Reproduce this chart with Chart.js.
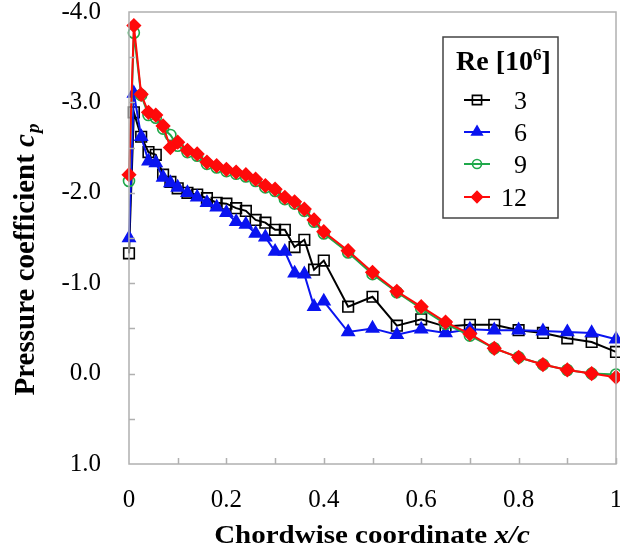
<!DOCTYPE html>
<html>
<head>
<meta charset="utf-8">
<script src="https://cdn.jsdelivr.net/npm/chart.js@4.4.1/dist/chart.umd.min.js"></script>
<style>
  html, body { margin: 0; padding: 0; background: #fff; }
  #wrap { width: 620px; height: 555px; position: relative; }
</style>
</head>
<body>
<div id="wrap"><canvas id="myChart"></canvas></div>
<script>
// chordwise stations x/c (shared by all runs)
const chordX = [0, 0.01, 0.025, 0.04, 0.055, 0.07, 0.085, 0.10, 0.12, 0.14, 0.16, 0.18, 0.20, 0.22, 0.24,
  0.26, 0.28, 0.30, 0.32, 0.34, 0.36, 0.38, 0.40, 0.45, 0.50, 0.55, 0.60, 0.65, 0.70, 0.75, 0.80,
  0.85, 0.90, 0.95, 1.00]

// pressure coefficient per Reynolds number
const cpRe3 = [-1.33, -2.89, -2.62, -2.45, -2.42, -2.20, -2.12, -2.05, -2.00, -1.98, -1.94, -1.89, -1.88, -1.83, -1.80,
  -1.70, -1.67, -1.59, -1.59, -1.40, -1.48, -1.15, -1.25, -0.74, -0.85, -0.53, -0.60, -0.52, -0.54, -0.54, -0.48,
  -0.45, -0.39, -0.35, -0.24]
const cpRe6 = [-1.50, -3.10, -2.62, -2.35, -2.33, -2.17, -2.11, -2.06, -2.00, -1.95, -1.89, -1.84, -1.78, -1.68, -1.65,
  -1.55, -1.51, -1.35, -1.35, -1.11, -1.10, -0.74, -0.80, -0.46, -0.50, -0.43, -0.49, -0.45, -0.49, -0.48, -0.48,
  -0.47, -0.46, -0.45, -0.38]
const cpRe9 = [-2.13, -3.77, -3.08, -2.86, -2.83, -2.71, -2.64, -2.52, -2.45, -2.41, -2.32, -2.28, -2.24, -2.21, -2.18,
  -2.13, -2.06, -2.02, -1.93, -1.88, -1.80, -1.68, -1.55, -1.34, -1.10, -0.90, -0.72, -0.55, -0.42, -0.28, -0.18,
  -0.10, -0.04, 0.00, 0.01]
const cpRe12 = [-2.20, -3.85, -3.09, -2.89, -2.86, -2.74, -2.50, -2.56, -2.47, -2.43, -2.34, -2.30, -2.26, -2.23, -2.20,
  -2.15, -2.08, -2.04, -1.95, -1.90, -1.82, -1.70, -1.57, -1.36, -1.12, -0.91, -0.74, -0.57, -0.44, -0.28, -0.18,
  -0.10, -0.04, 0.00, 0.04]

const reLabels = ['3', '6', '9', '12']
const xTickLabels = ['0', '0.2', '0.4', '0.6', '0.8', '1']
const yTickLabels = ['-4.0', '-3.0', '-2.0', '-1.0', '0.0', '1.0']

const serif = 'Liberation Serif, Times New Roman, serif'
const frameColor = '#b0b0b0'

function pts(ys){
  return chordX.map((x, i) => ({x: x, y: ys[i]}))
}

const styles = [
  {color: '#000000', pointStyle: 'rect', radius: 7.5, fill: 'rgba(0,0,0,0)'},
  {color: '#0a14f0', pointStyle: 'triangle', radius: 7, fill: '#0a14f0'},
  {color: '#1fa84a', pointStyle: 'circle', radius: 5.5, fill: 'rgba(0,0,0,0)'},
  {color: '#ff0a0a', pointStyle: 'rectRot', radius: 6.5, fill: '#ff0a0a'}
]
const series = [cpRe3, cpRe6, cpRe9, cpRe12]

const datasets = series.map((s, i) => ({
  label: reLabels[i],
  data: pts(s),
  showLine: true,
  clip: false,
  borderColor: styles[i].color,
  borderWidth: 2,
  pointStyle: styles[i].pointStyle,
  pointRadius: styles[i].radius,
  pointBorderWidth: 1.6,
  pointBorderColor: styles[i].color,
  pointBackgroundColor: styles[i].fill,
  order: 4 - i
}))

// inward ticks, frame, axis titles, legend
const decor = {
  id: 'decor',
  afterDraw(chart){
    const ctx = chart.ctx
    const a = chart.chartArea
    const xs = chart.scales.x, ys = chart.scales.y
    ctx.save()
    ctx.strokeStyle = frameColor
    ctx.lineWidth = 1.5
    ctx.strokeRect(a.left, a.top, a.right - a.left, a.bottom - a.top)
    ctx.beginPath()
    for(let v = 0.1; v < 1; v += 0.1){
      const px = Math.round(xs.getPixelForValue(v)) + 0.5
      ctx.moveTo(px, a.bottom); ctx.lineTo(px, a.bottom - 6)
    }
    for(let v = -3.5; v < 1; v += 0.5){
      const py = Math.round(ys.getPixelForValue(v)) + 0.5
      ctx.moveTo(a.left, py); ctx.lineTo(a.left + 6, py)
    }
    ctx.stroke()

    // x title
    ctx.fillStyle = '#000'
    ctx.textBaseline = 'alphabetic'
    ctx.textAlign = 'left'
    const t1 = 'Chordwise coordinate '
    const t2 = 'x/c'
    ctx.font = 'bold 29px ' + serif
    const w1 = ctx.measureText(t1).width
    ctx.font = 'italic bold 29px ' + serif
    const w2 = ctx.measureText(t2).width
    let sx = 372 - (w1 + w2) / 2
    ctx.save()
    ctx.translate(0, 543)
    ctx.scale(1, 0.87)
    ctx.font = 'bold 29px ' + serif
    ctx.fillText(t1, sx, 0)
    ctx.font = 'italic bold 29px ' + serif
    ctx.fillText(t2, sx + w1, 0)
    ctx.restore()

    // y title
    ctx.save()
    ctx.translate(34, 260)
    ctx.rotate(-Math.PI / 2)
    const y1 = 'Pressure coefficient '
    ctx.font = 'bold 29px ' + serif
    const yw1 = ctx.measureText(y1).width
    ctx.font = 'italic bold 29px ' + serif
    const yw2 = ctx.measureText('c').width
    ctx.font = 'italic bold 19px ' + serif
    const yw3 = ctx.measureText('p').width
    let sy = -(yw1 + yw2 + yw3) / 2
    ctx.font = 'bold 29px ' + serif
    ctx.fillText(y1, sy, 0)
    ctx.font = 'italic bold 29px ' + serif
    ctx.fillText('c', sy + yw1, 0)
    ctx.font = 'italic bold 19px ' + serif
    ctx.fillText('p', sy + yw1 + yw2 + 1, 5)
    ctx.restore()

    // legend
    const lx = 443, ly = 37, lw = 115, lh = 181
    ctx.strokeStyle = '#444'
    ctx.lineWidth = 1.5
    ctx.strokeRect(lx, ly, lw, lh)
    ctx.font = 'bold 28px ' + serif
    const r1 = 'Re [10', r3 = ']'
    const rw1 = ctx.measureText(r1).width
    const rw3 = ctx.measureText(r3).width
    ctx.font = 'bold 17px ' + serif
    const rw2 = ctx.measureText('6').width
    let tx = lx + lw / 2 - (rw1 + rw2 + rw3) / 2 + 3
    ctx.font = 'bold 28px ' + serif
    ctx.fillText(r1, tx, 70)
    ctx.font = 'bold 17px ' + serif
    ctx.fillText('6', tx + rw1, 60)
    ctx.font = 'bold 28px ' + serif
    ctx.fillText(r3, tx + rw1 + rw2, 70)

    const rowY = [100, 132, 164, 197]
    ctx.font = '26px ' + serif
    ctx.textAlign = 'right'
    ctx.textBaseline = 'middle'
    reLabels.forEach((lab, i) => {
      const st = styles[i]
      ctx.strokeStyle = st.color
      ctx.lineWidth = 2
      ctx.beginPath()
      ctx.moveTo(464, rowY[i]); ctx.lineTo(490, rowY[i])
      ctx.stroke()
      ctx.lineWidth = 1.6
      ctx.fillStyle = st.fill
      Chart.helpers.drawPoint(ctx, {pointStyle: st.pointStyle, radius: st.radius - 1, borderWidth: 1.6}, 477, rowY[i])
      ctx.fillStyle = '#000'
      ctx.fillText(lab, 527, rowY[i] + 2)
    })
    ctx.restore()
  }
}

// labels sit away from the axis through the (invisible) tick length;
// negative padding keeps the edge labels from shrinking the plot area
function fixX(s){ s.height = 91; s.paddingLeft = 0; s.paddingRight = 0 }
function fixY(s){ s.width = 129; s.paddingTop = 0; s.paddingBottom = 0 }

window.onload = function(){
  const config = {
    type: 'scatter',
    data: {datasets: datasets},
    plugins: [decor],
    options: {
      responsive: true,
      maintainAspectRatio: false,
      animation: false,
      layout: {autoPadding: false, padding: {top: 12, right: 4, left: 0, bottom: 0}},
      plugins: {legend: {display: false}, tooltip: {enabled: false}},
      scales: {
        x: {
          type: 'linear', min: 0, max: 1,
          grid: {display: true, drawOnChartArea: false, drawTicks: true, tickLength: 29, color: 'rgba(0,0,0,0)'},
          border: {display: false},
          afterFit: fixX,
          afterBuildTicks: s => { s.ticks = xTickLabels.map(t => ({value: parseFloat(t)})) },
          ticks: {
            padding: -8, color: '#000', font: {family: serif, size: 25},
            callback: (v, i) => xTickLabels[i]
          }
        },
        y: {
          type: 'linear', min: -4, max: 1, reverse: true,
          grid: {display: true, drawOnChartArea: false, drawTicks: true, tickLength: 42, color: 'rgba(0,0,0,0)'},
          border: {display: false},
          afterFit: fixY,
          afterBuildTicks: s => { s.ticks = yTickLabels.map(t => ({value: parseFloat(t)})) },
          ticks: {
            padding: -14, color: '#000', font: {family: serif, size: 25},
            callback: (v, i) => yTickLabels[i]
          }
        }
      }
    }
  }
  new Chart(document.getElementById('myChart'), config)
}
</script>
</body>
</html>
